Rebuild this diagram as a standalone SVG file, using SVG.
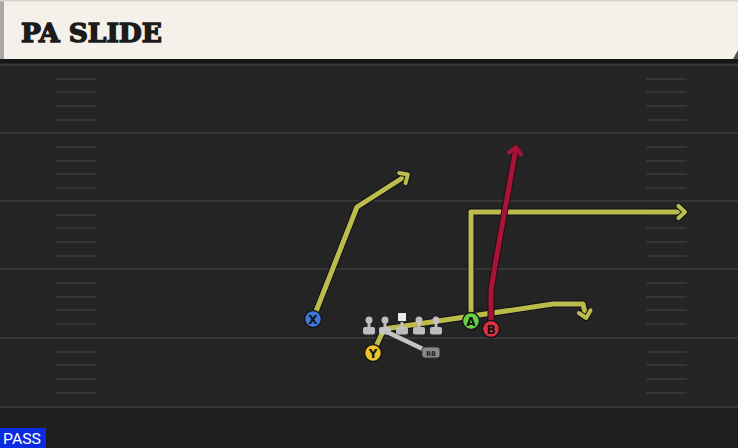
<svg xmlns="http://www.w3.org/2000/svg" width="738" height="448" viewBox="0 0 738 448">
<defs>
<style>
.yard{stroke:#363636;stroke-width:2}
.hash{stroke:#353535;stroke-width:2;stroke-linecap:round}
.rt{fill:none;stroke:#bcbc4c;stroke-width:5;stroke-linejoin:round;stroke-linecap:round}
.rto{fill:none;stroke:#101018;stroke-width:7;stroke-linejoin:round;stroke-linecap:round}
.red{fill:none;stroke:#a8133a;stroke-width:5;stroke-linejoin:round;stroke-linecap:round}
.redo{fill:none;stroke:#2a0a10;stroke-width:7;stroke-linejoin:round;stroke-linecap:round}
.gray{fill:none;stroke:#c4c4c4;stroke-width:4.5;stroke-linecap:round}
.node{stroke:#151515;stroke-width:1.5}
.lbl{font-family:"DejaVu Sans",sans-serif;font-weight:bold;font-size:12px;fill:#111;text-anchor:middle}
.ol{fill:#c6c6c6}
</style>
<marker id="ay" markerWidth="16" markerHeight="16" refX="8" refY="8" orient="auto" markerUnits="userSpaceOnUse"><path d="M2.5,2 L9,8 L2.5,14" fill="none" stroke="#101018" stroke-width="6" stroke-linecap="round" stroke-linejoin="round"/><path d="M2.5,2 L9,8 L2.5,14" fill="none" stroke="#bcbc4c" stroke-width="4" stroke-linecap="round" stroke-linejoin="round"/></marker>
<marker id="ar" markerWidth="16" markerHeight="16" refX="8" refY="8" orient="auto" markerUnits="userSpaceOnUse"><path d="M2.5,2 L9,8 L2.5,14" fill="none" stroke="#a8133a" stroke-width="4" stroke-linecap="round" stroke-linejoin="round"/></marker>
</defs>
<rect x="0" y="0" width="738" height="448" fill="#1f1f1f"/>
<rect x="0" y="60" width="738" height="348" fill="#242424"/>
<rect x="0" y="58" width="738" height="5" fill="#161616"/>
<g id="field">
<line class="yard" x1="0" y1="65" x2="738" y2="65"/>
<line class="yard" x1="0" y1="133" x2="738" y2="133"/>
<line class="yard" x1="0" y1="201" x2="738" y2="201"/>
<line class="yard" x1="0" y1="269" x2="738" y2="269"/>
<line class="yard" x1="0" y1="338" x2="738" y2="338"/>
<line class="yard" x1="0" y1="407" x2="738" y2="407"/>
<g id="hashes">
<path class="hash" d="M57,79H95M57,92H95M57,106H95M57,120H95M57,147H95M57,161H95M57,174H95M57,188H95M57,215H95M57,228H95M57,242H95M57,256H95M57,283H95M57,297H95M57,310H95M57,324H95M57,352H95M57,365H95M57,379H95M57,393H95"/>
<path class="hash" d="M647,79H686M647,92H686M647,106H686M647,120H686M647,147H686M647,161H686M647,174H686M647,188H686M647,215H686M647,228H686M647,242H686M647,256H686M647,283H686M647,297H686M647,310H686M647,324H686M647,352H686M647,365H686M647,379H686M647,393H686"/>
</g>
</g>
<g id="header">
<rect x="0" y="0" width="738" height="59" fill="#f4f1ea"/>
<rect x="0" y="0" width="4" height="59" fill="#a8a8a8"/>
<rect x="0" y="0" width="738" height="1.5" fill="#d8d5ce"/>
<path d="M733,59 L738,50 L738,59 Z" fill="#555"/>
<text x="21" y="42" font-family="DejaVu Serif, serif" font-weight="bold" font-size="26" fill="#1b1b1b" stroke="#1b1b1b" stroke-width="1.4" textLength="141" lengthAdjust="spacingAndGlyphs">PA SLIDE</text>
</g>
<g id="connectors">
<path class="rto" d="M313,319 L357,207 L407,175"/>
<path class="rt" d="M313,319 L357,207 L407,175" marker-end="url(#ay)"/>
<path class="rto" d="M471,321 L471,212 L684,212"/>
<path class="rt" d="M471,321 L471,212 L684,212" marker-end="url(#ay)"/>
<path class="gray" d="M383,330 L427,351"/>
<path class="rto" d="M373,353 L384,329 L553,304 L583,304 L586,317"/>
<path class="rt" d="M373,353 L384,329 L553,304 L583,304 L586,317" marker-end="url(#ay)"/>
<path class="redo" d="M491,329 L491,290 Q494,270 516,148"/>
<path class="red" d="M491,329 L491,290 Q494,270 516,148" marker-end="url(#ar)"/>
</g>
<g id="oline" opacity="0.95">
<g class="ol">
<circle cx="369" cy="320" r="3.5"/><rect x="367.5" y="320" width="3" height="10"/><rect x="363" y="327" width="12" height="7.5" rx="2"/>
<circle cx="385" cy="320" r="3.5"/><rect x="383.5" y="320" width="3" height="10"/><rect x="379" y="327" width="12" height="7.5" rx="2"/>
<rect x="400.5" y="322" width="3" height="8"/><rect x="396" y="327" width="12" height="7.5" rx="2"/>
<circle cx="419" cy="320" r="3.5"/><rect x="417.5" y="320" width="3" height="10"/><rect x="413" y="327" width="12" height="7.5" rx="2"/>
<circle cx="436" cy="320" r="3.5"/><rect x="434.5" y="320" width="3" height="10"/><rect x="430" y="327" width="12" height="7.5" rx="2"/>
</g>
<rect x="398" y="313" width="8" height="8" fill="#f4f4f4"/>
</g>
<g id="node-rb">
<rect x="422" y="347" width="18" height="11" rx="3" fill="#8a8a8a" stroke="#333" stroke-width="1"/>
<text x="431" y="355.5" font-family="DejaVu Sans, sans-serif" font-weight="bold" font-size="6.5" fill="#222" text-anchor="middle">RB</text>
</g>
<g id="node-x">
<circle class="node" cx="313" cy="319" r="8.5" fill="#3d78d6"/>
<text class="lbl" x="313" y="323.5">X</text>
</g>
<g id="node-a">
<circle class="node" cx="471" cy="321" r="8.5" fill="#69cf45"/>
<text class="lbl" x="471" y="325.5">A</text>
</g>
<g id="node-b">
<circle class="node" cx="491" cy="329" r="8.5" fill="#e0313f"/>
<text class="lbl" x="491" y="333.5">B</text>
</g>
<g id="node-y">
<circle class="node" cx="373" cy="353" r="8.5" fill="#e9c327"/>
<text class="lbl" x="373" y="357.5">Y</text>
</g>
<g id="pass">
<rect x="0" y="428" width="46" height="20" fill="#0b2be0"/>
<text x="3" y="444" font-family="Roboto, 'Liberation Sans', sans-serif" font-size="15" fill="#fff" textLength="38" lengthAdjust="spacingAndGlyphs">PASS</text>
</g>
</svg>
